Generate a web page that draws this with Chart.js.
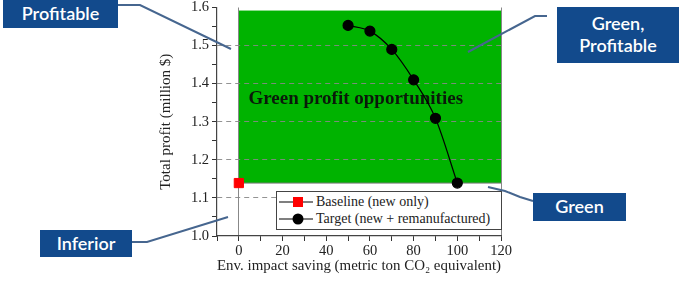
<!DOCTYPE html>
<html><head><meta charset="utf-8">
<script src="https://cdn.jsdelivr.net/npm/chart.js@4/dist/chart.umd.min.js"></script>
<style>
html,body{margin:0;padding:0;background:#fff;}
#wrap{position:relative;width:679px;height:285px;overflow:hidden;}
#c{position:absolute;left:0;top:0;}
.box{position:absolute;background:#124a8c;color:#fff;font-family:Lato,"Open Sans",sans-serif;font-size:18px;font-weight:600;display:flex;align-items:center;justify-content:center;text-align:center;line-height:1.2;}
#leaders{position:absolute;left:0;top:0;}
#legend{position:absolute;left:276px;top:191px;width:226px;height:39px;border:1px solid #444;background:#fff;box-sizing:border-box;font-family:"Liberation Serif",serif;font-size:14px;color:#222;}
.row{position:absolute;left:0;height:16px;display:flex;align-items:center;white-space:nowrap;}
.row svg{margin-left:1px;margin-right:2px;}
</style></head>
<body>
<div id="wrap">
<canvas id="c" width="679" height="285"></canvas>
<svg id="leaders" width="679" height="285">
 <g fill="none" stroke="#46668f" stroke-width="2">
  <polyline points="118,5 140,5 231,49"/>
  <polyline points="547,16 535,16 468,52"/>
  <polyline points="132,242 147,242 228,217"/>
  <polyline points="488,187 505,191 520,197 533,201"/>
 </g>
</svg>
<div class="box" style="left:3px;top:0px;width:115px;height:28px;">Profitable</div>
<div class="box" style="left:557px;top:7px;width:122px;height:56px;">Green,<br>Profitable</div>
<div class="box" style="left:40px;top:230px;width:92px;height:27px;">Inferior</div>
<div class="box" style="left:533px;top:193px;width:93px;height:28px;">Green</div>
<div id="legend"></div>
</div>
<script>
// ---- data ----
const baselineX = [0];
const baselineY = [1.139];
const targetX = [50, 60, 70, 80, 90, 100];
const targetY = [1.553, 1.538, 1.490, 1.410, 1.309, 1.139];
const seriesNames = ['Baseline (new only)', 'Target (new + remanufactured)'];
const greenRegionX = [0, 120];
const greenRegionY = [1.139, 1.592];
const regionLabel = 'Green profit opportunities';
const regionLabelPos = [53.5, 1.359];
const xTitle = 'Env. impact saving (metric ton CO\u2082 equivalent)';
const yTitle = 'Total profit (million $)';

const serif = '"Liberation Serif", "Times New Roman", serif';

const regionPlugin = {
  id: 'region',
  beforeDraw(chart) {
    const {ctx, scales: {x, y}} = chart;
    const l = x.getPixelForValue(greenRegionX[0]), r = x.getPixelForValue(greenRegionX[1]);
    const t = y.getPixelForValue(greenRegionY[1]), b = y.getPixelForValue(greenRegionY[0]);
    ctx.save();
    ctx.fillStyle = '#00b300';
    ctx.fillRect(l, t, r - l, b - t);
    ctx.strokeStyle = '#7a7a7a';
    ctx.lineWidth = 1;
    ctx.beginPath();
    ctx.moveTo(l, b); ctx.lineTo(r, b);
    ctx.stroke();
    ctx.restore();
  },
  beforeDatasetsDraw(chart) {
    const {ctx, scales: {x, y}} = chart;
    ctx.save();
    ctx.font = 'bold 19px ' + serif;
    ctx.fillStyle = '#0a1a0a';
    ctx.textAlign = 'center';
    ctx.textBaseline = 'middle';
    ctx.fillText(regionLabel, x.getPixelForValue(regionLabelPos[0]), y.getPixelForValue(regionLabelPos[1]));
    ctx.restore();
  }
};

const isMajorY = v => Math.abs(Math.round(v * 10) - v * 10) < 1e-6;
const isMajorX = v => Math.round(v) % 20 === 0;

const chart = new Chart(document.getElementById('c'), {
  type: 'line',
  data: {
    datasets: [
      {
        label: seriesNames[0],
        data: baselineX.map((v, i) => ({x: v, y: baselineY[i]})),
        borderColor: '#000', backgroundColor: '#ff0000',
        pointStyle: 'rect', pointRadius: 6.5, pointBorderColor: '#ff0000',
        pointBackgroundColor: '#ff0000', showLine: false
      },
      {
        label: seriesNames[1],
        data: targetX.map((v, i) => ({x: v, y: targetY[i]})),
        borderColor: '#000', borderWidth: 1.2, backgroundColor: '#000',
        pointStyle: 'circle', pointRadius: 5, pointBackgroundColor: '#000',
        pointBorderColor: '#000', cubicInterpolationMode: 'monotone'
      }
    ]
  },
  options: {
    responsive: false,
    animation: false,
    devicePixelRatio: 1,
    layout: {padding: {left: 153, right: 178, top: 6, bottom: 0}},
    plugins: {legend: {display: false}, tooltip: {enabled: false}},
    scales: {
      x: {
        type: 'linear', min: -10, max: 120,
        afterFit: s => { s.height = 49; s.paddingLeft = 0; s.paddingRight = 0; },
        ticks: {
          stepSize: 10, autoSkip: false, padding: 1, maxRotation: 0, minRotation: 0,
          color: '#222', font: {family: serif, size: 14.5},
          callback: v => isMajorX(v) && v >= 0 ? String(v) : ''
        },
        grid: {
          color: c => (c.tick && (c.tick.value === 0 || c.tick.value === 120)) ? '#888' : 'rgba(0,0,0,0)',
          tickColor: '#333', tickLength: 5, lineWidth: 1
        },
        border: {color: '#444', width: 1.2},
        title: {display: true, text: xTitle, color: '#222', font: {family: serif, size: 15}, padding: {top: 2, bottom: 10}}
      },
      y: {
        type: 'linear', min: 1.0, max: 1.6,
        afterFit: s => { s.width = 64; s.paddingTop = 0; s.paddingBottom = 0; },
        ticks: {
          stepSize: 0.05, autoSkip: false, padding: 3,
          color: '#222', font: {family: serif, size: 14.5},
          callback: v => isMajorY(v) ? v.toFixed(1) : ''
        },
        grid: {
          color: c => {
            const v = c.tick ? c.tick.value : 0;
            return (isMajorY(v) && v > 1.05 && v < 1.55) ? 'rgba(135,135,135,0.9)' : 'rgba(0,0,0,0)';
          },
          tickColor: '#333', tickLength: 5, lineWidth: 1
        },
        border: {color: '#444', width: 1.2, dash: [5, 4]},
        title: {display: true, text: yTitle, color: '#222', font: {family: serif, size: 15}, padding: {top: 4, bottom: 2}}
      }
    }
  },
  plugins: [regionPlugin]
});

// HTML legend built from datasets
const legend = document.getElementById('legend');
chart.data.datasets.forEach((ds, i) => {
  const row = document.createElement('div');
  row.className = 'row';
  row.style.top = (2 + i * 17) + 'px';
  const marker = ds.pointStyle === 'rect'
    ? '<rect x="15" y="3" width="10" height="10" fill="' + ds.pointBackgroundColor + '"/>'
    : '<circle cx="20" cy="8" r="5.5" fill="' + ds.pointBackgroundColor + '"/>';
  row.innerHTML = '<svg width="36" height="16"><line x1="1" y1="8" x2="35" y2="8" stroke="#000" stroke-width="1.2"/>' + marker + '</svg><span>' + ds.label + '</span>';
  legend.appendChild(row);
});
</script>
</body></html>
